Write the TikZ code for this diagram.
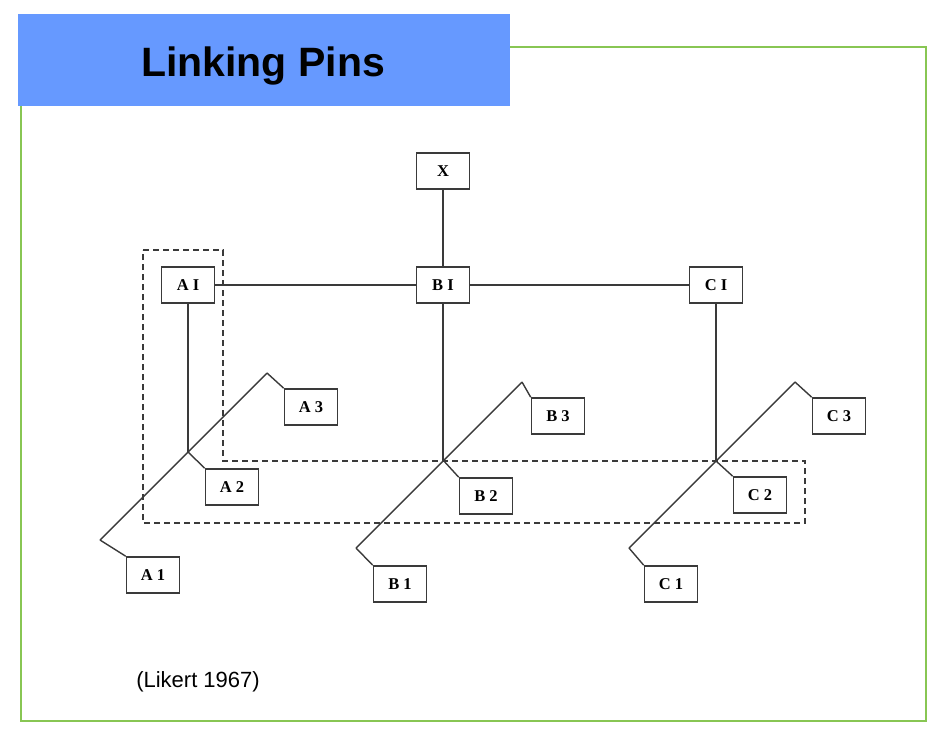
\documentclass[tikz,border=0pt]{standalone}
\usepackage{fontspec}
\setmainfont{Liberation Serif}
\newfontfamily\arialfont{Liberation Sans}
\definecolor{pinblue}{HTML}{6699FF}
\definecolor{pingreen}{HTML}{88C653}
\definecolor{pinline}{HTML}{3A3A3A}
\usetikzlibrary{positioning, calc}

\begin{document}
\begin{tikzpicture}[x=1pt, y=-1pt,
    unitbox/.style={draw=pinline, line width=1.6pt, fill=white,
                    minimum width=53pt, minimum height=36pt, inner sep=0pt,
                    font=\fontsize{16.5}{19}\selectfont\bfseries},
    pin/.style={pinline, line width=1.4pt},
    overlap/.style={pinline, line width=1.4pt, dash pattern=on 6pt off 4pt}]
        \useasboundingbox (0,0) rectangle (939,732);

        % ---- frame and title ----
        \draw[pingreen, line width=2pt]
              (510,47) -- (926,47) -- (926,721) -- (21,721) -- (21,106);
        \fill[pinblue] (18,14) rectangle (510,106);
        \node[anchor=base, font=\arialfont\fontsize{41}{46}\selectfont\bfseries]
              (title) at (263,76) {Linking Pins};

        % ---- overlapping groups ----
        \draw[overlap] (143,250) -- (223,250) -- (223,461) -- (805,461)
              -- (805,523) -- (143,523) -- cycle;

        % ---- top level ----
        \node[unitbox] (X)  at (443,171) {X};
        \node[unitbox] (AI) at (188,285) {A I};
        \node[unitbox] (BI) at (443,285) {B I};
        \node[unitbox] (CI) at (716,285) {C I};
        \draw[pin] (X) -- (BI);
        \draw[pin] (AI) -- (BI);
        \draw[pin] (BI) -- (CI);

        % ---- group A ----
        \coordinate (jA)  at (188,452);
        \coordinate (loA) at (100,540);
        \coordinate (hiA) at (267,373);
        \node[unitbox] (A3) at (311,407) {A 3};
        \node[unitbox] (A2) at (232,487) {A 2};
        \node[unitbox] (A1) at (153,575) {A 1};
        \draw[pin] (AI) -- (jA);
        \draw[pin] (loA) -- (hiA);
        \draw[pin] (hiA) -- (A3.north west);
        \draw[pin] (jA) -- (A2.north west);
        \draw[pin] (loA) -- (A1.north west);

        % ---- group B ----
        \coordinate (jB)  at (443,460);
        \coordinate (loB) at (356,548);
        \coordinate (hiB) at (522,382);
        \node[unitbox] (B3) at (558,416) {B 3};
        \node[unitbox] (B2) at (486,496) {B 2};
        \node[unitbox] (B1) at (400,584) {B 1};
        \draw[pin] (BI) -- (jB);
        \draw[pin] (loB) -- (hiB);
        \draw[pin] (hiB) -- (B3.north west);
        \draw[pin] (jB) -- (B2.north west);
        \draw[pin] (loB) -- (B1.north west);

        % ---- group C ----
        \coordinate (jC)  at (716,461);
        \coordinate (loC) at (629,548);
        \coordinate (hiC) at (795,382);
        \node[unitbox] (C3) at (839,416) {C 3};
        \node[unitbox] (C2) at (760,495) {C 2};
        \node[unitbox] (C1) at (671,584) {C 1};
        \draw[pin] (CI) -- (jC);
        \draw[pin] (loC) -- (hiC);
        \draw[pin] (hiC) -- (C3.north west);
        \draw[pin] (jC) -- (C2.north west);
        \draw[pin] (loC) -- (C1.north west);

        % ---- source ----
        \node[anchor=base, font=\arialfont\fontsize{22}{26}\selectfont]
              (source) at (198,687) {(Likert 1967)};
      \end{tikzpicture}
\end{document}
